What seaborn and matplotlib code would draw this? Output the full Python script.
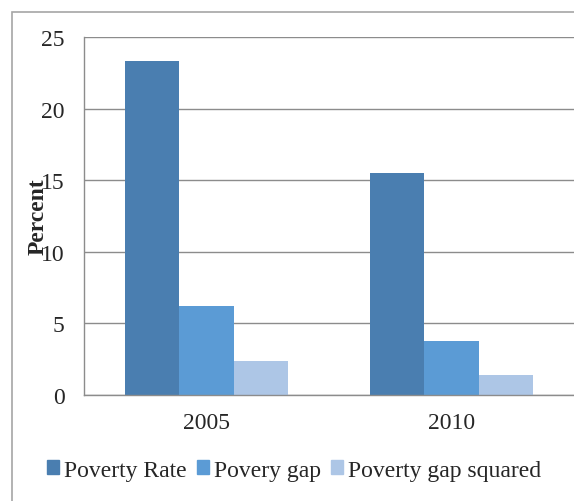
import matplotlib
matplotlib.use("Agg")
import matplotlib.pyplot as plt
import matplotlib.patches as mpatches
import seaborn as sns
import pandas as pd

# chart values
years = ["2005", "2010"]
measures = ["Poverty Rate", "Povery gap", "Poverty gap squared"]
poverty_rate = [23.3, 15.5]
poverty_gap = [6.2, 3.8]
poverty_gap_sq = [2.4, 1.4]
yticks = [0, 5, 10, 15, 20, 25]

colors = ["#4a7eb0", "#5b9bd5", "#adc6e6"]

# long form table for seaborn
rows = []
for name, vals in zip(measures, [poverty_rate, poverty_gap, poverty_gap_sq]):
    for yr, v in zip(years, vals):
        rows.append({"Year": yr, "Measure": name, "Percent": v})
df = pd.DataFrame(rows)

sns.set_style("white")
plt.rcParams["font.family"] = ["Liberation Serif", "DejaVu Serif"]

fig = plt.figure(figsize=(5.74, 5.02), dpi=100)
ax = fig.add_axes([84 / 574, 106 / 502, 490 / 574, 358 / 502])

sns.barplot(data=df, x="Year", y="Percent", hue="Measure", order=years,
            hue_order=measures, palette=colors, width=0.667, saturation=1,
            edgecolor="none", errorbar=None, ax=ax)

ax.set_xlim(-0.5, 1.5)
ax.set_ylim(0, 25)
ax.set_yticks(yticks)
ax.set_yticklabels([str(t) for t in yticks], fontsize=17)
ax.yaxis.grid(True, color="#8c8c8c", linewidth=1)
ax.set_axisbelow(True)
ax.tick_params(axis="y", length=6, color="#8c8c8c", pad=8)

# category labels at centres, tick marks at boundaries
ax.set_xticks([0, 1])
ax.set_xticklabels(years, fontsize=17)
ax.tick_params(axis="x", which="major", length=0, pad=12)
ax.set_xticks([-0.5, 0.5, 1.5], minor=True)
ax.tick_params(axis="x", which="minor", length=6, color="#8c8c8c", direction="out")
ax.set_xlabel("")

ax.set_ylabel("Percent", fontsize=17, fontweight="bold")
ax.yaxis.set_label_coords(-0.073, 0.5)

for s in ["top", "right"]:
    ax.spines[s].set_visible(False)
for s in ["left", "bottom"]:
    ax.spines[s].set_color("#8c8c8c")
    ax.spines[s].set_linewidth(1)

ax.get_legend().remove()
handles = [mpatches.Patch(color=c, label=m) for c, m in zip(colors, measures)]
fig.legend(handles=handles, loc="center", bbox_to_anchor=(294 / 574, 1 - 471 / 502),
           ncol=3, frameon=False, fontsize=17, handlelength=0.5, handleheight=0.5,
           handletextpad=0.2, columnspacing=0.45, borderaxespad=0, borderpad=0)

# outer chart border
fig.patches.append(mpatches.Rectangle((12 / 574, -0.05), 1.1, 1 - 13 / 502 + 0.05,
                                      transform=fig.transFigure, fill=False,
                                      edgecolor="#a6a6a6", linewidth=1.2))

fig.savefig("out.png", dpi=100)
